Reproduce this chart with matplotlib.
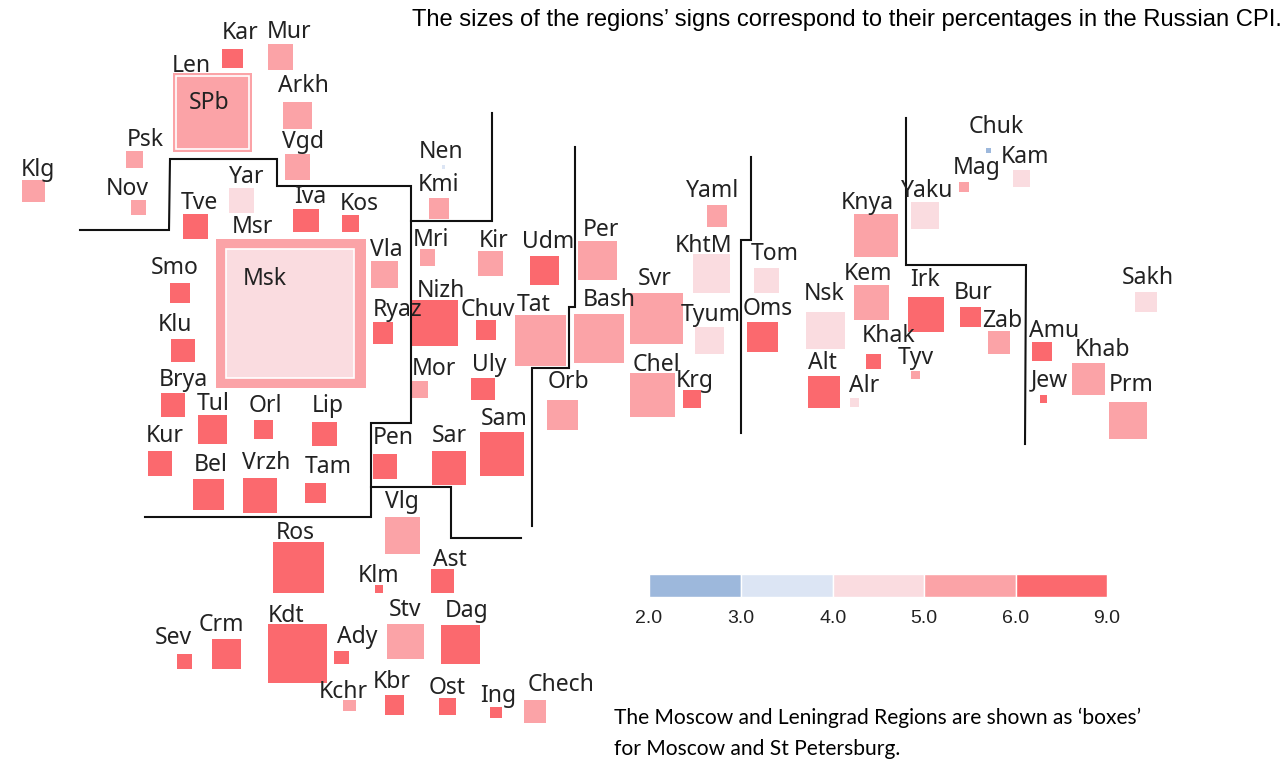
#!/usr/bin/env python
# -*-coding:utf-8 -*

import matplotlib
matplotlib.use('Agg')
import matplotlib.pyplot as plt

# one entry per region: name, colour class, square edges, label anchor (all in map units)
regions = ["Kar", "Mur", "Len", "SPb", "Arkh", "Vgd", "Psk", "Klg", "Nov", "Tve", "Yar", "Iva", "Kos", "Nen", "Kmi",
           "Msr", "Msk", "Mri", "Kir", "Udm", "Vla", "Smo", "Klu", "Nizh", "Ryaz", "Chuv", "Tat", "Mor", "Uly", "Brya",
           "Tul", "Orl", "Lip", "Kur", "Pen", "Sar", "Sam", "Bel", "Vrzh", "Tam", "Vlg", "Ros", "Klm", "Ast", "Stv",
           "Dag", "Kdt", "Crm", "Sev", "Ady", "Kchr", "Kbr", "Ost", "Ing", "Chech", "Per", "Yaml", "KhtM", "Tom", "Knya",
           "Svr", "Bash", "Tyum", "Oms", "Nsk", "Kem", "Chel", "Krg", "Orb", "Alt", "Alr", "Khak", "Chuk", "Kam", "Mag",
           "Yaku", "Irk", "Bur", "Zab", "Tyv", "Amu", "Khab", "Jew", "Prm", "Sakh"]
cpi_class = [5, 4, 4, 4, 4, 4, 4, 4, 4, 5, 3, 5, 5, 2, 4,
             4, 3, 4, 4, 5, 4, 5, 5, 5, 5, 5, 4, 4, 5, 5,
             5, 5, 5, 5, 5, 5, 5, 5, 5, 5, 4, 5, 5, 5, 4,
             5, 5, 5, 5, 5, 4, 5, 5, 5, 4, 4, 4, 3, 3, 4,
             4, 4, 3, 5, 3, 4, 4, 5, 4, 5, 3, 5, 1, 3, 4,
             3, 5, 5, 4, 4, 5, 4, 5, 4, 3]
box_left = [222, 268, 173, 176, 283, 285, 126, 22, 131, 183, 229, 293, 342, 442, 429,
            216, 226, 420, 478, 530, 371, 170, 171, 411, 373, 476, 515, 412, 471, 161,
            198, 254, 312, 148, 373, 432, 480, 193, 243, 305, 385, 273, 375, 431, 387,
            441, 268, 212, 177, 334, 343, 385, 439, 490, 524, 578, 707, 693, 754, 854,
            630, 574, 695, 747, 806, 854, 630, 683, 547, 808, 850, 866, 986, 1013, 959,
            911, 908, 960, 988, 911, 1032, 1072, 1040, 1109, 1135]
box_right = [243, 293, 252, 249, 312, 310, 143, 45, 146, 208, 254, 319, 359, 445, 449,
             366, 354, 435, 503, 559, 398, 190, 195, 458, 393, 496, 566, 428, 495, 185,
             227, 273, 337, 172, 397, 466, 524, 224, 277, 326, 420, 324, 383, 454, 424,
             480, 327, 241, 192, 349, 356, 404, 456, 502, 546, 617, 727, 730, 779, 898,
             683, 624, 724, 778, 845, 889, 675, 701, 578, 840, 859, 881, 991, 1030, 969,
             939, 944, 981, 1010, 920, 1052, 1105, 1047, 1147, 1157]
box_top = [49, 44, 73, 76, 102, 154, 151, 180, 200, 214, 188, 209, 215, 165, 198,
           239, 249, 249, 251, 256, 261, 283, 339, 300, 322, 320, 315, 381, 378, 393,
           415, 420, 422, 451, 454, 451, 432, 479, 478, 483, 517, 542, 585, 569, 624,
           625, 624, 639, 654, 651, 700, 695, 698, 707, 700, 241, 205, 254, 268, 214,
           293, 314, 327, 322, 312, 285, 373, 390, 400, 376, 398, 354, 148, 170, 182,
           202, 297, 307, 331, 371, 342, 363, 395, 402, 292]
box_bottom = [68, 70, 152, 149, 129, 180, 168, 202, 215, 239, 213, 232, 232, 169, 219,
              388, 378, 266, 276, 285, 288, 303, 362, 346, 344, 340, 366, 398, 400, 417,
              444, 439, 446, 476, 479, 485, 476, 510, 513, 503, 554, 593, 593, 593, 659,
              664, 683, 669, 669, 664, 711, 715, 715, 718, 723, 280, 227, 293, 293, 257,
              344, 363, 354, 352, 349, 320, 417, 408, 430, 408, 407, 369, 153, 187, 192,
              229, 332, 327, 354, 379, 361, 395, 403, 439, 312]
label_x = [240, 289, 191, 209, 303, 303, 145, 38, 127, 199, 247, 310, 359, 441, 439,
           252, 265, 431, 494, 548, 386, 175, 175, 441, 398, 488, 534, 434, 489, 183,
           213, 265, 328, 165, 393, 449, 504, 211, 266, 328, 402, 295, 379, 450, 405,
           467, 286, 221, 173, 357, 343, 392, 447, 498, 561, 601, 713, 704, 775, 867,
           655, 609, 711, 768, 824, 868, 656, 695, 568, 822, 864, 889, 996, 1025, 977,
           927, 925, 973, 1002, 916, 1054, 1103, 1049, 1131, 1148]
label_y = [39, 38, 72, 109, 92, 148, 146, 176, 195, 209, 183, 203, 210, 158, 191,
           233, 285, 246, 247, 248, 256, 274, 331, 297, 316, 316, 311, 375, 371, 386,
           410, 412, 412, 442, 444, 442, 425, 471, 469, 473, 508, 539, 582, 566, 616,
           617, 622, 631, 644, 643, 698, 688, 694, 702, 691, 236, 197, 252, 260, 209,
           285, 306, 321, 315, 300, 280, 371, 387, 388, 369, 392, 342, 133, 163, 174,
           197, 286, 299, 327, 364, 337, 356, 386, 391, 284]

# squares drawn inside a box (city inside its surrounding region)
city_boxes = ["SPb", "Msk"]

class_colors = {1: "#9DB8DC", 2: "#DCE5F4", 3: "#FADCE0", 4: "#FBA3A7", 5: "#FB696E"}

# colour scale
scale_ticks = [649, 741, 833, 924, 1016, 1107]
scale_labels = ["2.0", "3.0", "4.0", "5.0", "6.0", "9.0"]
scale_classes = [1, 2, 3, 4, 5]

# boundaries between federal districts
border_paths = [
    ([80, 169, 170, 277, 277, 411, 411, 371, 371, 145], [230, 230, 159, 159, 186, 186, 423, 423, 517, 517]),
    ([411, 492, 492], [221, 221, 113]),
    ([371, 451, 451, 521], [487, 487, 538, 538]),
    ([575, 575, 569, 569, 532, 532], [147, 307, 307, 368, 368, 526]),
    ([751, 751, 741, 741], [157, 240, 240, 433]),
    ([906, 906, 1026, 1025], [118, 265, 265, 444]),
]


def plot_map():
    fig = plt.figure(figsize=(12.88, 7.61), dpi=100)
    ax = fig.add_axes([0, 0, 1, 1])
    ax.set_xlim(0, 1288)
    ax.set_ylim(761, 0)
    ax.axis("off")

    for i, name in enumerate(regions):
        edge = "white" if name in city_boxes else "none"
        ax.bar(box_left[i], box_bottom[i] - box_top[i], box_right[i] - box_left[i], bottom=box_top[i],
               align="edge", color=class_colors[cpi_class[i]], edgecolor=edge, linewidth=1.2, zorder=2)

    for xs, ys in border_paths:
        ax.plot(xs, ys, color="#111111", linewidth=1.5, zorder=3, solid_joinstyle="miter")

    for i, name in enumerate(regions):
        ax.text(label_x[i], label_y[i], name, family="Noto Sans", fontsize=16.5, color="#222222",
                ha="center", va="baseline", zorder=4)

    # scale bar
    for i, c in enumerate(scale_classes):
        ax.bar(scale_ticks[i], 23, scale_ticks[i + 1] - scale_ticks[i], bottom=574, align="edge",
               color=class_colors[c], edgecolor="white", linewidth=1, zorder=2)
    for x, lab in zip(scale_ticks, scale_labels):
        ax.text(x, 623, lab, family="Liberation Sans", fontsize=14, color="#222222", ha="center", va="baseline")

    ax.text(412, 26, "The sizes of the regions\u2019 signs correspond to their percentages in the Russian CPI.",
            family="Liberation Sans", fontsize=17.1, color="black", ha="left", va="baseline")
    ax.text(614, 724, "The Moscow and Leningrad Regions are shown as \u2018boxes\u2019",
            family="Lato", fontsize=15.1, color="black", ha="left", va="baseline")
    ax.text(614, 755, "for Moscow and St Petersburg.",
            family="Lato", fontsize=15.1, color="black", ha="left", va="baseline")

    fig.savefig("out.png", dpi=100, facecolor="white")


if __name__ == "__main__":
    plot_map()
